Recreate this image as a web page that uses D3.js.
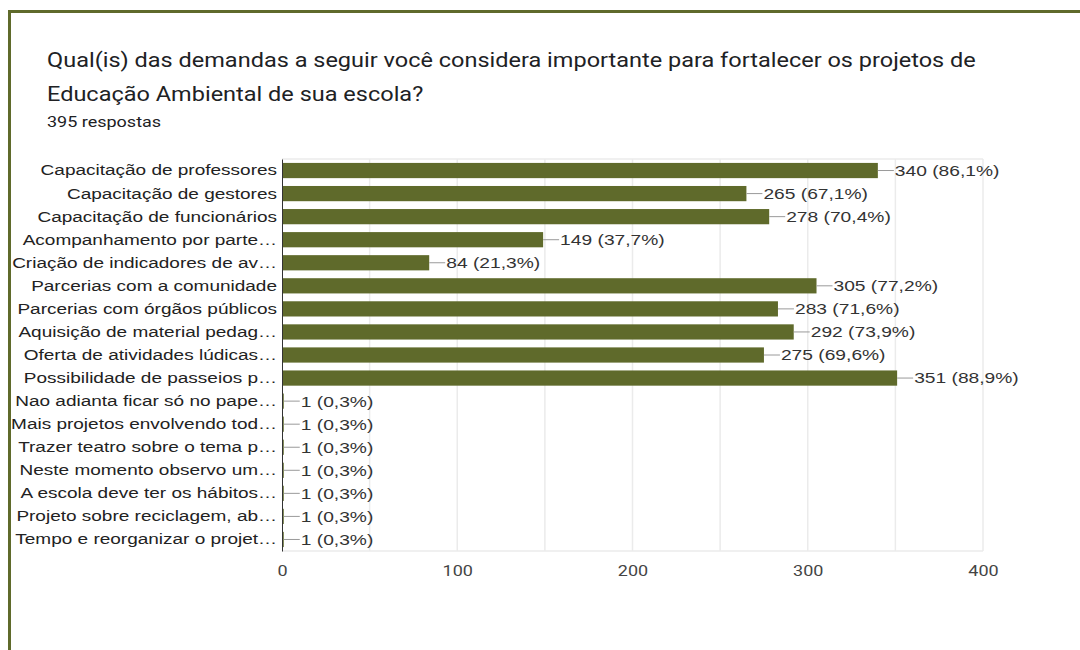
<!DOCTYPE html>
<html>
<head>
<meta charset="utf-8">
<script src="https://cdn.jsdelivr.net/npm/d3@7"></script>
<style>
  html, body { margin: 0; padding: 0; background: #fff; }
  svg { display: block; }
</style>
</head>
<body>
<svg id="chart" width="1080" height="650"></svg>
<script>
// Survey question and response count
const titleLines = [
  "Qual(is) das demandas a seguir você considera importante para fortalecer os projetos de",
  "Educação Ambiental de sua escola?"
];
const subtitle = "395 respostas";

// Answer options (as displayed, truncated)
const categories = [
  "Capacitação de professores",
  "Capacitação de gestores",
  "Capacitação de funcionários",
  "Acompanhamento por parte…",
  "Criação de indicadores de av…",
  "Parcerias com a comunidade",
  "Parcerias com órgãos públicos",
  "Aquisição de material pedag…",
  "Oferta de atividades lúdicas…",
  "Possibilidade de passeios p…",
  "Nao adianta ficar só no pape…",
  "Mais projetos envolvendo tod…",
  "Trazer teatro sobre o tema p…",
  "Neste momento observo um…",
  "A escola deve ter os hábitos…",
  "Projeto sobre reciclagem, ab…",
  "Tempo e reorganizar o projet…"
];

// Number of responses per option
const counts = [340, 265, 278, 149, 84, 305, 283, 292, 275, 351, 1, 1, 1, 1, 1, 1, 1];

// Share of respondents per option
const percents = ["86,1%", "67,1%", "70,4%", "37,7%", "21,3%", "77,2%", "71,6%", "73,9%", "69,6%", "88,9%",
                  "0,3%", "0,3%", "0,3%", "0,3%", "0,3%", "0,3%", "0,3%"];

const axisTicks = [0, 100, 200, 300, 400];
const gridTicks = [50, 100, 150, 200, 250, 300, 350, 400];

const svg = d3.select("#chart");
const olive = "#5f6a2b";

// Text in this card is drawn slightly widened horizontally
const titleStretch = 1.12;
const categoryStretch = 1.225;
const valueStretch = 1.24;
const tickStretch = 1.2;

// Card frame: top and left edges
svg.append("rect").attr("x", 8).attr("y", 10).attr("width", 1072).attr("height", 3).attr("fill", olive);
svg.append("rect").attr("x", 8).attr("y", 10).attr("width", 3).attr("height", 640).attr("fill", olive);

// Title block
const titleFont = "Roboto, 'Noto Sans', sans-serif";
svg.selectAll("text.title")
  .data(titleLines)
  .join("text")
  .attr("class", "title")
  .attr("transform", (d, i) => `translate(47,${67 + i * 34}) scale(${titleStretch},1)`)
  .attr("font-family", titleFont)
  .attr("font-size", 21)
  .attr("fill", "#202124")
  .text(d => d);

svg.append("text")
  .attr("transform", `translate(47,127) scale(1.2,1)`)
  .attr("font-family", titleFont)
  .attr("font-size", 15)
  .attr("fill", "#202124")
  .text(subtitle);

// Plot area
const plotLeft = 282, plotRight = 983, plotTop = 159, plotBottom = 551;
const x = d3.scaleLinear().domain([0, 400]).range([plotLeft, plotRight]);
const y = d3.scaleBand().domain(categories).range([plotTop, plotBottom]).paddingInner(0.34).paddingOuter(0.17);

const labelFont = "'Liberation Sans', Arial, sans-serif";

// Grid lines
svg.append("g").selectAll("line")
  .data(gridTicks)
  .join("line")
  .attr("x1", d => x(d)).attr("x2", d => x(d))
  .attr("y1", plotTop).attr("y2", plotBottom)
  .attr("stroke", "#ebebeb").attr("stroke-width", 1.5);

// Plot frame top/bottom
svg.append("line").attr("x1", plotLeft).attr("x2", plotRight).attr("y1", plotTop).attr("y2", plotTop)
  .attr("stroke", "#ebebeb").attr("stroke-width", 1.5);
svg.append("line").attr("x1", plotLeft).attr("x2", plotRight).attr("y1", plotBottom).attr("y2", plotBottom)
  .attr("stroke", "#ebebeb").attr("stroke-width", 1.5);

const rows = categories.map((c, i) => ({ cat: c, value: counts[i], pct: percents[i] }));

// Bars
svg.append("g").selectAll("rect")
  .data(rows)
  .join("rect")
  .attr("x", x(0))
  .attr("y", d => y(d.cat))
  .attr("width", d => x(d.value) - x(0))
  .attr("height", y.bandwidth())
  .attr("fill", olive);

// Leader lines
const leader = 16;
svg.append("g").selectAll("line")
  .data(rows)
  .join("line")
  .attr("x1", d => x(d.value))
  .attr("x2", d => x(d.value) + leader)
  .attr("y1", d => y(d.cat) + y.bandwidth() / 2)
  .attr("y2", d => y(d.cat) + y.bandwidth() / 2)
  .attr("stroke", "#9a9a9a").attr("stroke-width", 1);

// Value labels
svg.append("g").selectAll("text")
  .data(rows)
  .join("text")
  .attr("transform", d => `translate(${x(d.value) + leader + 1},${y(d.cat) + y.bandwidth() / 2}) scale(${valueStretch},1)`)
  .attr("dy", "0.35em")
  .attr("font-family", labelFont)
  .attr("font-size", 15.5)
  .attr("fill", "#333")
  .text(d => `${d.value} (${d.pct})`);

// Category axis
const yAxis = svg.append("g")
  .attr("transform", `translate(${plotLeft},0)`)
  .call(d3.axisLeft(y).tickSize(0).tickPadding(5));
yAxis.select(".domain").attr("stroke", "#333").attr("stroke-width", 1);
yAxis.selectAll(".tick text")
  .attr("x", null)
  .attr("transform", `translate(-5,0) scale(${categoryStretch},1)`)
  .attr("font-family", labelFont)
  .attr("font-size", 15.5)
  .attr("fill", "#222");

// Value axis
const xAxis = svg.append("g")
  .attr("transform", `translate(0,${plotBottom})`)
  .call(d3.axisBottom(x).tickValues(axisTicks).tickSize(0).tickPadding(14));
xAxis.select(".domain").remove();
xAxis.selectAll(".tick text")
  .attr("y", null)
  .attr("transform", `translate(0,14) scale(${tickStretch},1)`)
  .attr("font-family", titleFont)
  .attr("font-size", 15)
  .attr("fill", "#444");
</script>
</body>
</html>
